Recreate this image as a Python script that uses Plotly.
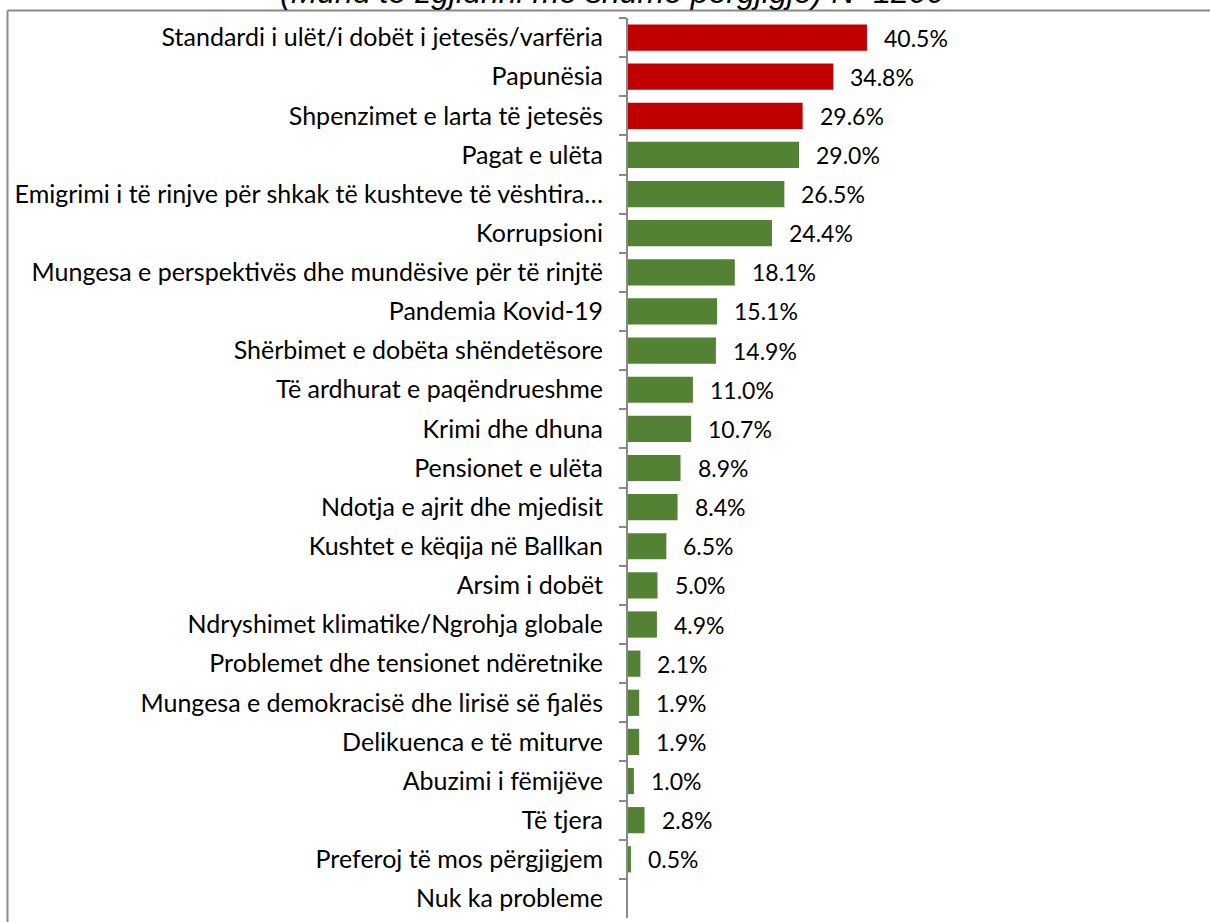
import plotly.graph_objects as go

categories = [
    "Standardi i ulët/i dobët i jetesës/varfëria",
    "Papunësia",
    "Shpenzimet e larta të jetesës",
    "Pagat e ulëta",
    "Emigrimi i të rinjve për shkak të kushteve të vështira…",
    "Korrupsioni",
    "Mungesa e perspektivës dhe mundësive për të rinjtë",
    "Pandemia Kovid-19",
    "Shërbimet e dobëta shëndetësore",
    "Të ardhurat e paqëndrueshme",
    "Krimi dhe dhuna",
    "Pensionet e ulëta",
    "Ndotja e ajrit dhe mjedisit",
    "Kushtet e këqija në Ballkan",
    "Arsim i dobët",
    "Ndryshimet klimatike/Ngrohja globale",
    "Problemet dhe tensionet ndëretnike",
    "Mungesa e demokracisë dhe lirisë së fjalës",
    "Delikuenca e të miturve",
    "Abuzimi i fëmijëve",
    "Të tjera",
    "Preferoj të mos përgjigjem",
    "Nuk ka probleme",
]
values = [40.5, 34.8, 29.6, 29.0, 26.5, 24.4, 18.1, 15.1, 14.9, 11.0, 10.7, 8.9,
          8.4, 6.5, 5.0, 4.9, 2.1, 1.9, 1.9, 1.0, 2.8, 0.5, None]
highlight = [True, True, True] + [False] * 20
subtitle = "(Mund të zgjidhni më shumë përgjigje) N=1200"

RED = "#C00000"
GREEN = "#548235"
colors = [RED if h else GREEN for h in highlight]

W, H = 1210, 922
ML, MR, MT, MB = 628, 10, 18, 4
px_per_unit = 5.9
pw, ph = W - ML - MR, H - MT - MB
xmax = pw / px_per_unit

FONT = "Lato"

fig = go.Figure()
fig.add_trace(go.Bar(
    y=categories, x=values, orientation="h",
    marker=dict(color=colors, line=dict(width=0)),
    hoverinfo="skip",
))

for c, v in zip(categories, values):
    if v is None:
        continue
    fig.add_annotation(x=v, y=c, xref="x", yref="y", text=f"{v:.1f}%",
                       showarrow=False, xanchor="left", yanchor="middle",
                       xshift=15, font=dict(family=FONT, size=23, color="#000000"))

# cut-off subtitle at the top
fig.add_annotation(x=(612 - ML) / pw, y=1 + (MT - 12) / ph,
                   xref="paper", yref="paper",
                   text="<i>" + subtitle + "</i>",
                   showarrow=False, xanchor="center", yanchor="bottom",
                   font=dict(family="Liberation Sans", size=32, color="#000000"))

# outer frame (top and left edges)
fx0 = (7.5 - ML) / pw
fy1 = 1 + (MT - 10.5) / ph
fy0 = -(MB + 5) / ph
fx1 = 1 + (MR + 5) / pw
fig.add_shape(type="line", xref="paper", yref="paper", x0=fx0, x1=fx1, y0=fy1, y1=fy1,
              line=dict(color="#898989", width=2))
fig.add_shape(type="line", xref="paper", yref="paper", x0=fx0, x1=fx0, y0=fy0, y1=fy1,
              line=dict(color="#898989", width=2))

fig.update_layout(
    width=W, height=H,
    margin=dict(l=ML, r=MR, t=MT, b=MB, pad=0),
    paper_bgcolor="white", plot_bgcolor="white",
    bargap=0.33,
    showlegend=False,
    font=dict(family=FONT, size=25, color="#000000"),
)
fig.update_xaxes(range=[0, xmax], visible=False, fixedrange=True)
fig.update_yaxes(
    autorange="reversed", type="category",
    showline=True, linecolor="#898989", linewidth=2,
    ticks="outside", tickson="boundaries", ticklen=7, tickwidth=2, tickcolor="#898989",
    ticklabelstandoff=18,
    tickfont=dict(family=FONT, size=25, color="#000000"),
    showgrid=False, zeroline=False, fixedrange=True, automargin=False,
)

fig.write_html(
    "out.html",
    config={"displayModeBar": False},
    post_script="document.body.style.margin='0';document.documentElement.style.overflow='hidden';",
)
